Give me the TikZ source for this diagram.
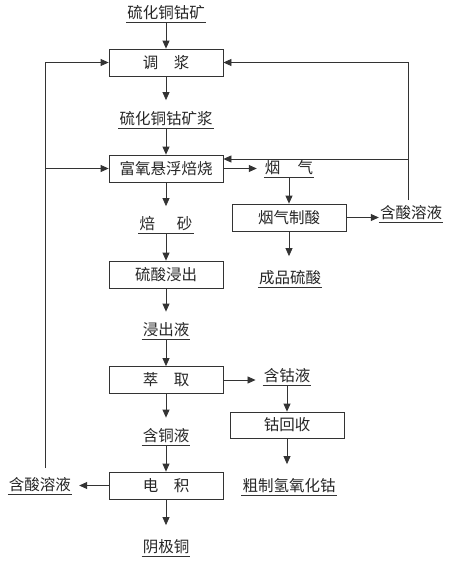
\documentclass[tikz,border=0pt]{standalone}
\usepackage{fontspec}
\setmainfont{Noto Sans CJK SC}
\usetikzlibrary{arrows.meta}
\newcommand\cjksize{\fontsize{15.5pt}{17pt}\selectfont}
\begin{document}
\begin{tikzpicture}[x=1pt,y=-1pt,
  line/.style={draw=black!80, line width=0.8pt},
  arr/.style={line, -{Triangle[length=8pt,width=7pt]}},
  box/.style={draw=black!80, line width=0.8pt, minimum width=114pt, minimum height=27pt, inner sep=0pt, font=\cjksize, text=black!85},
  lbl/.style={anchor=south, inner xsep=1pt, inner ysep=1.5pt, text height=11.5pt, text depth=2pt, font=\cjksize, text=black!85},
  ul/.style={draw=black!80, line width=0.8pt}]
\useasboundingbox (0,0) rectangle (453,562);
\fill[white] (0,0) rectangle (453,562);
% boxes
\node[box] (tj) at (166,62.5) {调\hspace{1em}浆};
\node[box] (fy) at (166,168.5) {富氧悬浮焙烧};
\node[box] (ls) at (166,274.5) {硫酸浸出};
\node[box] (cq) at (166,380) {萃\hspace{1em}取};
\node[box] (dj) at (166,485.5) {电\hspace{1em}积};
\node[box] (yz) at (289,217.5) {烟气制酸};
\node[box, minimum height=26pt] (gh) at (287,425) {钴回收};
% labels
\node[lbl] (ore) at (166,22) {硫化铜钴矿};
\node[lbl] (slurry) at (166,128) {硫化铜钴矿浆};
\node[lbl] (yq) at (289,177) {烟\hspace{1.1em}气};
\node[lbl] (bs) at (166,233) {焙\hspace{1.4em}砂};
\node[lbl] (acid1) at (411,222) {含酸溶液};
\node[lbl] (cp) at (290,287) {成品硫酸};
\node[lbl] (jc) at (166,339) {浸出液};
\node[lbl] (hg) at (287,385) {含钴液};
\node[lbl] (cz) at (289,495) {粗制氢氧化钴};
\node[lbl] (ht) at (166,445) {含铜液};
\node[lbl] (acid2) at (40,494) {含酸溶液};
\node[lbl] (yj) at (166,556) {阴极铜};
% underlines
\foreach \n in {ore,slurry,yq,bs,acid1,cp,jc,hg,cz,ht,acid2,yj}
  \draw[ul] (\n.south west) -- (\n.south east);
% main column
\draw[arr] (ore.south) -- (tj.north);
\draw[arr, shorten >=11pt] (tj.south) -- (slurry.north);
\draw[arr] (slurry.south) -- (fy.north);
\draw[arr, shorten >=10pt] (fy.south) -- (bs.north);
\draw[arr] (bs.south) -- (ls.north);
\draw[arr, shorten >=10.5pt] (ls.south) -- (jc.north);
\draw[arr] (jc.south) -- (cq.north);
\draw[arr, shorten >=10.5pt] (cq.south) -- (ht.north);
\draw[arr] (ht.south) -- (dj.north);
\draw[arr, shorten >=14pt] (dj.south) -- (yj.north);
% right branches
\draw[arr, shorten >=7pt] (fy.east) -- (fy.east -| yq.west);
\draw[arr] (yq.south) -- (yz.north);
\draw[arr] (yz.east) -- (yz.east -| acid1.west);
\draw[arr, shorten >=14pt] (yz.south) -- (yz.south |- cp.north);
\draw[arr, shorten >=7pt] (cq.east) -- (cq.east -| hg.west);
\draw[arr] (hg.south) -- (gh.north);
\draw[arr, shorten >=14pt] (gh.south) -- (gh.south |- cz.north);
% left branch
\draw[arr, shorten >=7pt] (dj.west) -- (dj.west -| acid2.east);
% feedback loops
\coordinate (lx) at (45,0);
\coordinate (rx) at (408,0);
\coordinate (rb) at (408,159);
\draw[arr, shorten <=9pt] (acid2.north -| lx) |- (tj.west);
\draw[arr] (lx |- fy.west) -- (fy.west);
\draw[arr, shorten <=5pt] (acid1.north -| rx) |- (tj.east);
\draw[arr] (rb) -- (rb -| fy.east);
\end{tikzpicture}
\end{document}
